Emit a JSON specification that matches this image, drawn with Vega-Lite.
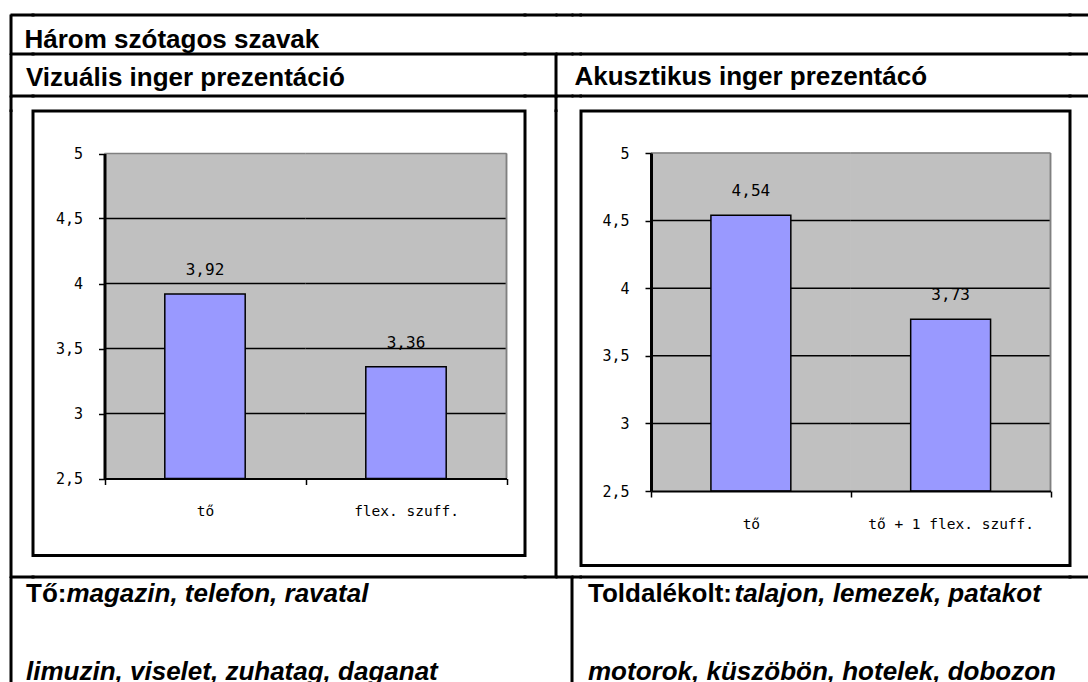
{
  "$schema": "https://vega.github.io/schema/vega-lite/v6.json",
  "padding": {"left": 9, "top": 13, "right": 0, "bottom": 0},
  "columns": 10,
  "spacing": 0,
  "bounds": "flush",
  "align": "each",
  "datasets": {
    "visual": [
      {"cat": "tő", "value": 3.92, "label": "3,92"},
      {"cat": "flex. szuff.", "value": 3.36, "label": "3,36"}
    ],
    "acoustic": [
      {"cat": "tő", "value": 4.54, "label": "4,54"},
      {"cat": "tő + 1 flex. szuff.", "value": 3.77, "label": "3,73"}
    ],
    "visualGrid": [
      {"cat": "tő", "g": 3}, {"cat": "flex. szuff.", "g": 3},
      {"cat": "tő", "g": 3.5}, {"cat": "flex. szuff.", "g": 3.5},
      {"cat": "tő", "g": 4}, {"cat": "flex. szuff.", "g": 4},
      {"cat": "tő", "g": 4.5}, {"cat": "flex. szuff.", "g": 4.5},
      {"cat": "tő", "g": 5}, {"cat": "flex. szuff.", "g": 5}
    ],
    "acousticGrid": [
      {"cat": "tő", "g": 3}, {"cat": "tő + 1 flex. szuff.", "g": 3},
      {"cat": "tő", "g": 3.5}, {"cat": "tő + 1 flex. szuff.", "g": 3.5},
      {"cat": "tő", "g": 4}, {"cat": "tő + 1 flex. szuff.", "g": 4},
      {"cat": "tő", "g": 4.5}, {"cat": "tő + 1 flex. szuff.", "g": 4.5},
      {"cat": "tő", "g": 5}, {"cat": "tő + 1 flex. szuff.", "g": 5}
    ]
  },
  "concat": [
    {"width": 0.01, "height": 0.01, "data": {"values": []}, "mark": "rect", "encoding": {}},
    {"width": 21, "height": 0.01, "view": {"stroke": "black", "strokeWidth": 3}, "data": {"values": []}, "mark": "rect", "encoding": {}},
    {"width": 492, "height": 0.01, "view": {"stroke": "black", "strokeWidth": 3}, "data": {"values": []}, "mark": "rect", "encoding": {}},
    {"width": 31, "height": 0.01, "view": {"stroke": "black", "strokeWidth": 3}, "data": {"values": []}, "mark": "rect", "encoding": {}},
    {"width": 0.01, "height": 0.01, "data": {"values": []}, "mark": "rect", "encoding": {}},
    {"width": 15, "height": 0.01, "view": {"stroke": "black", "strokeWidth": 3}, "data": {"values": []}, "mark": "rect", "encoding": {}},
    {"width": 0.01, "height": 0.01, "data": {"values": []}, "mark": "rect", "encoding": {}},
    {"width": 7.5, "height": 0.01, "view": {"stroke": "black", "strokeWidth": 3}, "data": {"values": []}, "mark": "rect", "encoding": {}},
    {"width": 489, "height": 0.01, "view": {"stroke": "black", "strokeWidth": 3}, "data": {"values": []}, "mark": "rect", "encoding": {}},
    {"width": 20.5, "height": 0.01, "view": {"stroke": "black", "strokeWidth": 3}, "data": {"values": []}, "mark": "rect", "encoding": {}},

    {"width": 0.01, "height": 37.5, "view": {"stroke": "black", "strokeWidth": 3}, "data": {"values": []}, "mark": "rect", "encoding": {}},
    {"width": 21, "height": 37.5, "title": {"text": "Három szótagos szavak", "anchor": "start", "frame": "group", "offset": -36.7, "dx": 12.5, "font": "Liberation Sans", "fontSize": 26, "fontWeight": "bold", "color": "black"}, "data": {"values": []}, "mark": "rect", "encoding": {}},
    {"width": 492, "height": 0.01, "data": {"values": []}, "mark": "rect", "encoding": {}},
    {"width": 31, "height": 0.01, "data": {"values": []}, "mark": "rect", "encoding": {}},
    {"width": 0.01, "height": 0.01, "data": {"values": []}, "mark": "rect", "encoding": {}},
    {"width": 15, "height": 0.01, "data": {"values": []}, "mark": "rect", "encoding": {}},
    {"width": 0.01, "height": 0.01, "data": {"values": []}, "mark": "rect", "encoding": {}},
    {"width": 7.5, "height": 0.01, "data": {"values": []}, "mark": "rect", "encoding": {}},
    {"width": 489, "height": 0.01, "data": {"values": []}, "mark": "rect", "encoding": {}},
    {"width": 20.5, "height": 0.01, "data": {"values": []}, "mark": "rect", "encoding": {}},

    {"width": 0.01, "height": 0.01, "data": {"values": []}, "mark": "rect", "encoding": {}},
    {"width": 21, "height": 0.01, "view": {"stroke": "black", "strokeWidth": 3}, "data": {"values": []}, "mark": "rect", "encoding": {}},
    {"width": 492, "height": 0.01, "view": {"stroke": "black", "strokeWidth": 3}, "data": {"values": []}, "mark": "rect", "encoding": {}},
    {"width": 31, "height": 0.01, "view": {"stroke": "black", "strokeWidth": 3}, "data": {"values": []}, "mark": "rect", "encoding": {}},
    {"width": 0.01, "height": 0.01, "data": {"values": []}, "mark": "rect", "encoding": {}},
    {"width": 15, "height": 0.01, "view": {"stroke": "black", "strokeWidth": 3}, "data": {"values": []}, "mark": "rect", "encoding": {}},
    {"width": 0.01, "height": 0.01, "data": {"values": []}, "mark": "rect", "encoding": {}},
    {"width": 7.5, "height": 0.01, "view": {"stroke": "black", "strokeWidth": 3}, "data": {"values": []}, "mark": "rect", "encoding": {}},
    {"width": 489, "height": 0.01, "view": {"stroke": "black", "strokeWidth": 3}, "data": {"values": []}, "mark": "rect", "encoding": {}},
    {"width": 20.5, "height": 0.01, "view": {"stroke": "black", "strokeWidth": 3}, "data": {"values": []}, "mark": "rect", "encoding": {}},

    {"width": 0.01, "height": 41, "view": {"stroke": "black", "strokeWidth": 3}, "data": {"values": []}, "mark": "rect", "encoding": {}},
    {"width": 21, "height": 41, "title": {"text": "Vizuális inger prezentáció", "anchor": "start", "frame": "group", "offset": -35.8, "dx": 14, "font": "Liberation Sans", "fontSize": 26, "fontWeight": "bold", "color": "black"}, "data": {"values": []}, "mark": "rect", "encoding": {}},
    {"width": 492, "height": 0.01, "data": {"values": []}, "mark": "rect", "encoding": {}},
    {"width": 31, "height": 0.01, "data": {"values": []}, "mark": "rect", "encoding": {}},
    {"width": 0.01, "height": 41, "view": {"stroke": "black", "strokeWidth": 3}, "data": {"values": []}, "mark": "rect", "encoding": {}},
    {"width": 15, "height": 41, "title": {"text": "Akusztikus inger prezentácó", "anchor": "start", "frame": "group", "offset": -35.2, "dx": 17.5, "font": "Liberation Sans", "fontSize": 26, "fontWeight": "bold", "color": "black"}, "data": {"values": []}, "mark": "rect", "encoding": {}},
    {"width": 0.01, "height": 0.01, "data": {"values": []}, "mark": "rect", "encoding": {}},
    {"width": 7.5, "height": 0.01, "data": {"values": []}, "mark": "rect", "encoding": {}},
    {"width": 489, "height": 0.01, "data": {"values": []}, "mark": "rect", "encoding": {}},
    {"width": 20.5, "height": 0.01, "data": {"values": []}, "mark": "rect", "encoding": {}},

    {"width": 0.01, "height": 0.01, "data": {"values": []}, "mark": "rect", "encoding": {}},
    {"width": 21, "height": 0.01, "view": {"stroke": "black", "strokeWidth": 3}, "data": {"values": []}, "mark": "rect", "encoding": {}},
    {"width": 492, "height": 0.01, "view": {"stroke": "black", "strokeWidth": 3}, "data": {"values": []}, "mark": "rect", "encoding": {}},
    {"width": 31, "height": 0.01, "view": {"stroke": "black", "strokeWidth": 3}, "data": {"values": []}, "mark": "rect", "encoding": {}},
    {"width": 0.01, "height": 0.01, "data": {"values": []}, "mark": "rect", "encoding": {}},
    {"width": 15, "height": 0.01, "view": {"stroke": "black", "strokeWidth": 3}, "data": {"values": []}, "mark": "rect", "encoding": {}},
    {"width": 0.01, "height": 0.01, "data": {"values": []}, "mark": "rect", "encoding": {}},
    {"width": 7.5, "height": 0.01, "view": {"stroke": "black", "strokeWidth": 3}, "data": {"values": []}, "mark": "rect", "encoding": {}},
    {"width": 489, "height": 0.01, "view": {"stroke": "black", "strokeWidth": 3}, "data": {"values": []}, "mark": "rect", "encoding": {}},
    {"width": 20.5, "height": 0.01, "view": {"stroke": "black", "strokeWidth": 3}, "data": {"values": []}, "mark": "rect", "encoding": {}},

    {"width": 0.01, "height": 13.5, "view": {"stroke": "black", "strokeWidth": 3}, "data": {"values": []}, "mark": "rect", "encoding": {}},
    {"width": 21, "height": 0.01, "data": {"values": []}, "mark": "rect", "encoding": {}},
    {"width": 492, "height": 0.01, "data": {"values": []}, "mark": "rect", "encoding": {}},
    {"width": 31, "height": 0.01, "data": {"values": []}, "mark": "rect", "encoding": {}},
    {"width": 0.01, "height": 13.5, "view": {"stroke": "black", "strokeWidth": 3}, "data": {"values": []}, "mark": "rect", "encoding": {}},
    {"width": 15, "height": 0.01, "data": {"values": []}, "mark": "rect", "encoding": {}},
    {"width": 0.01, "height": 0.01, "data": {"values": []}, "mark": "rect", "encoding": {}},
    {"width": 7.5, "height": 0.01, "data": {"values": []}, "mark": "rect", "encoding": {}},
    {"width": 489, "height": 0.01, "data": {"values": []}, "mark": "rect", "encoding": {}},
    {"width": 20.5, "height": 0.01, "data": {"values": []}, "mark": "rect", "encoding": {}},

    {"width": 0.01, "height": 465.5, "view": {"stroke": "black", "strokeWidth": 3}, "data": {"values": []}, "mark": "rect", "encoding": {}},
    {"width": 21, "height": 0.01, "data": {"values": []}, "mark": "rect", "encoding": {}},
    {
      "width": 492, "height": 444.5,
      "view": {"stroke": "black", "strokeWidth": 3, "fill": "white"},
      "data": {"name": "visual"},
      "encoding": {
        "x": {
          "field": "cat", "type": "nominal", "title": null,
          "scale": {"domain": ["tő", "flex. szuff."], "range": [71.5, 473.5], "paddingInner": 0, "paddingOuter": 0},
          "axis": {"orient": "bottom", "offset": -77, "zindex": 1, "grid": false, "domainColor": "black", "domainWidth": 2, "tickColor": "black", "tickWidth": 1.5, "tickSize": 6, "tickBand": "extent", "labelAngle": 0, "labelFont": "DejaVu Sans Mono", "labelFontSize": 14.5, "labelColor": "black", "labelPadding": 20, "title": null}
        }
      },
      "layer": [
        {
          "mark": {"type": "rect", "color": "#C0C0C0", "stroke": "#C0C0C0", "strokeWidth": 1},
          "encoding": {
            "y": {"datum": 5, "type": "quantitative", "title": null, "scale": {"domain": [2.5, 5], "range": [367.5, 42.5], "nice": false, "zero": false}},
            "y2": {"datum": 2.5}
          }
        },
        {
          "data": {"name": "visualGrid"},
          "mark": {"type": "rect", "fillOpacity": 0, "strokeWidth": 1.5},
          "encoding": {
            "y": {"field": "g", "type": "quantitative", "title": null, "scale": {"domain": [2.5, 5], "range": [367.5, 42.5], "nice": false, "zero": false}},
            "y2": {"field": "g"},
            "stroke": {"condition": {"test": "datum.g === 5", "value": "#808080"}, "value": "black"}
          }
        },
        {
          "mark": {"type": "rule", "color": "#808080", "strokeWidth": 1.5},
          "encoding": {
            "x": {"datum": "flex. szuff.", "type": "nominal", "bandPosition": 1},
            "y": {"datum": 5, "type": "quantitative", "title": null, "scale": {"domain": [2.5, 5], "range": [367.5, 42.5], "nice": false, "zero": false}},
            "y2": {"datum": 2.5}
          }
        },
        {
          "mark": {"type": "bar", "color": "#9999FF", "stroke": "black", "strokeWidth": 1.5, "width": {"band": 0.4}},
          "encoding": {
            "y": {
              "field": "value", "type": "quantitative", "title": null,
              "scale": {"domain": [2.5, 5], "range": [367.5, 42.5], "nice": false, "zero": false},
              "axis": {"orient": "left", "offset": -71.5, "zindex": 1, "values": [2.5, 3, 3.5, 4, 4.5, 5], "format": ".1~f", "grid": false, "domainColor": "black", "domainWidth": 3, "tickColor": "black", "tickWidth": 1.5, "tickSize": 6, "labelFont": "DejaVu Sans Mono", "labelFontSize": 15, "labelColor": "black", "labelPadding": 16, "title": null}
            },
            "y2": {"datum": 2.5}
          }
        },
        {
          "mark": {"type": "text", "font": "DejaVu Sans Mono", "fontSize": 16, "baseline": "alphabetic", "dy": -19, "color": "black"},
          "encoding": {
            "y": {"field": "value", "type": "quantitative", "title": null, "scale": {"domain": [2.5, 5], "range": [367.5, 42.5], "nice": false, "zero": false}},
            "text": {"field": "label"}
          }
        }
      ]
    },
    {"width": 31, "height": 0.01, "data": {"values": []}, "mark": "rect", "encoding": {}},
    {"width": 0.01, "height": 465.5, "view": {"stroke": "black", "strokeWidth": 3}, "data": {"values": []}, "mark": "rect", "encoding": {}},
    {"width": 15, "height": 0.01, "data": {"values": []}, "mark": "rect", "encoding": {}},
    {"width": 0.01, "height": 0.01, "data": {"values": []}, "mark": "rect", "encoding": {}},
    {"width": 7.5, "height": 0.01, "data": {"values": []}, "mark": "rect", "encoding": {}},
    {
      "width": 489, "height": 454.5,
      "view": {"stroke": "black", "strokeWidth": 3, "fill": "white"},
      "data": {"name": "acoustic"},
      "encoding": {
        "x": {
          "field": "cat", "type": "nominal", "title": null,
          "scale": {"domain": ["tő", "tő + 1 flex. szuff."], "range": [70, 469.5], "paddingInner": 0, "paddingOuter": 0},
          "axis": {"orient": "bottom", "offset": -74.5, "zindex": 1, "grid": false, "domainColor": "black", "domainWidth": 2, "tickColor": "black", "tickWidth": 1.5, "tickSize": 6, "tickBand": "extent", "labelAngle": 0, "labelFont": "DejaVu Sans Mono", "labelFontSize": 14.5, "labelColor": "black", "labelPadding": 20, "title": null}
        }
      },
      "layer": [
        {
          "mark": {"type": "rect", "color": "#C0C0C0", "stroke": "#C0C0C0", "strokeWidth": 1},
          "encoding": {
            "y": {"datum": 5, "type": "quantitative", "title": null, "scale": {"domain": [2.5, 5], "range": [380, 42], "nice": false, "zero": false}},
            "y2": {"datum": 2.5}
          }
        },
        {
          "data": {"name": "acousticGrid"},
          "mark": {"type": "rect", "fillOpacity": 0, "strokeWidth": 1.5},
          "encoding": {
            "y": {"field": "g", "type": "quantitative", "title": null, "scale": {"domain": [2.5, 5], "range": [380, 42], "nice": false, "zero": false}},
            "y2": {"field": "g"},
            "stroke": {"condition": {"test": "datum.g === 5", "value": "#808080"}, "value": "black"}
          }
        },
        {
          "mark": {"type": "rule", "color": "#808080", "strokeWidth": 1.5},
          "encoding": {
            "x": {"datum": "tő + 1 flex. szuff.", "type": "nominal", "bandPosition": 1},
            "y": {"datum": 5, "type": "quantitative", "title": null, "scale": {"domain": [2.5, 5], "range": [380, 42], "nice": false, "zero": false}},
            "y2": {"datum": 2.5}
          }
        },
        {
          "mark": {"type": "bar", "color": "#9999FF", "stroke": "black", "strokeWidth": 1.5, "width": {"band": 0.4}},
          "encoding": {
            "y": {
              "field": "value", "type": "quantitative", "title": null,
              "scale": {"domain": [2.5, 5], "range": [380, 42], "nice": false, "zero": false},
              "axis": {"orient": "left", "offset": -70, "zindex": 1, "values": [2.5, 3, 3.5, 4, 4.5, 5], "format": ".1~f", "grid": false, "domainColor": "black", "domainWidth": 3, "tickColor": "black", "tickWidth": 1.5, "tickSize": 6, "labelFont": "DejaVu Sans Mono", "labelFontSize": 15, "labelColor": "black", "labelPadding": 16, "title": null}
            },
            "y2": {"datum": 2.5}
          }
        },
        {
          "mark": {"type": "text", "font": "DejaVu Sans Mono", "fontSize": 16, "baseline": "alphabetic", "dy": -19, "color": "black"},
          "encoding": {
            "y": {"field": "value", "type": "quantitative", "title": null, "scale": {"domain": [2.5, 5], "range": [380, 42], "nice": false, "zero": false}},
            "text": {"field": "label"}
          }
        }
      ]
    },
    {"width": 20.5, "height": 0.01, "data": {"values": []}, "mark": "rect", "encoding": {}},

    {"width": 0.01, "height": 0.01, "data": {"values": []}, "mark": "rect", "encoding": {}},
    {"width": 21, "height": 0.01, "view": {"stroke": "black", "strokeWidth": 3}, "data": {"values": []}, "mark": "rect", "encoding": {}},
    {"width": 492, "height": 0.01, "view": {"stroke": "black", "strokeWidth": 3}, "data": {"values": []}, "mark": "rect", "encoding": {}},
    {"width": 31, "height": 0.01, "view": {"stroke": "black", "strokeWidth": 3}, "data": {"values": []}, "mark": "rect", "encoding": {}},
    {"width": 0.01, "height": 0.01, "data": {"values": []}, "mark": "rect", "encoding": {}},
    {"width": 15, "height": 0.01, "view": {"stroke": "black", "strokeWidth": 3}, "data": {"values": []}, "mark": "rect", "encoding": {}},
    {"width": 0.01, "height": 0.01, "data": {"values": []}, "mark": "rect", "encoding": {}},
    {"width": 7.5, "height": 0.01, "view": {"stroke": "black", "strokeWidth": 3}, "data": {"values": []}, "mark": "rect", "encoding": {}},
    {"width": 489, "height": 0.01, "view": {"stroke": "black", "strokeWidth": 3}, "data": {"values": []}, "mark": "rect", "encoding": {}},
    {"width": 20.5, "height": 0.01, "view": {"stroke": "black", "strokeWidth": 3}, "data": {"values": []}, "mark": "rect", "encoding": {}},

    {"width": 0.01, "height": 108.5, "view": {"stroke": "black", "strokeWidth": 3}, "data": {"values": []}, "mark": "rect", "encoding": {}},
    {"width": 21, "height": 108.5, "title": {"text": "Tő:", "subtitle": "limuzin, viselet, zuhatag, daganat", "anchor": "start", "frame": "group", "offset": -106.5, "dx": 14, "font": "Liberation Sans", "fontSize": 26, "fontWeight": "bold", "color": "black", "subtitleFont": "Liberation Sans", "subtitleFontSize": 26, "subtitleFontWeight": "bold", "subtitleFontStyle": "italic", "subtitleColor": "black", "subtitlePadding": 52}, "data": {"values": []}, "mark": "rect", "encoding": {}},
    {"width": 492, "height": 108.5, "title": {"text": "magazin, telefon, ravatal", "anchor": "start", "frame": "group", "offset": -28.5, "dx": 33.4, "font": "Liberation Sans", "fontSize": 26, "fontWeight": "bold", "fontStyle": "italic", "color": "black"}, "data": {"values": []}, "mark": "rect", "encoding": {}},
    {"width": 31, "height": 0.01, "data": {"values": []}, "mark": "rect", "encoding": {}},
    {"width": 0.01, "height": 0.01, "data": {"values": []}, "mark": "rect", "encoding": {}},
    {"width": 15, "height": 0.01, "data": {"values": []}, "mark": "rect", "encoding": {}},
    {"width": 0.01, "height": 108.5, "view": {"stroke": "black", "strokeWidth": 3}, "data": {"values": []}, "mark": "rect", "encoding": {}},
    {"width": 7.5, "height": 108.5, "title": {"text": "Toldalékolt:", "subtitle": "motorok, küszöbön, hotelek, dobozon", "anchor": "start", "frame": "group", "offset": -106.5, "dx": 15, "font": "Liberation Sans", "fontSize": 26, "fontWeight": "bold", "color": "black", "subtitleFont": "Liberation Sans", "subtitleFontSize": 26, "subtitleFontWeight": "bold", "subtitleFontStyle": "italic", "subtitleColor": "black", "subtitlePadding": 52}, "data": {"values": []}, "mark": "rect", "encoding": {}},
    {"width": 489, "height": 108.5, "title": {"text": "talajon, lemezek, patakot", "anchor": "start", "frame": "group", "offset": -28.5, "dx": 153.5, "font": "Liberation Sans", "fontSize": 26, "fontWeight": "bold", "fontStyle": "italic", "color": "black"}, "data": {"values": []}, "mark": "rect", "encoding": {}},
    {"width": 20.5, "height": 0.01, "data": {"values": []}, "mark": "rect", "encoding": {}}
  ],
  "config": {
    "view": {"stroke": null},
    "locale": {"number": {"decimal": ",", "thousands": " ", "grouping": [3], "currency": ["", " Ft"]}},
    "font": "Liberation Sans"
  }
}
